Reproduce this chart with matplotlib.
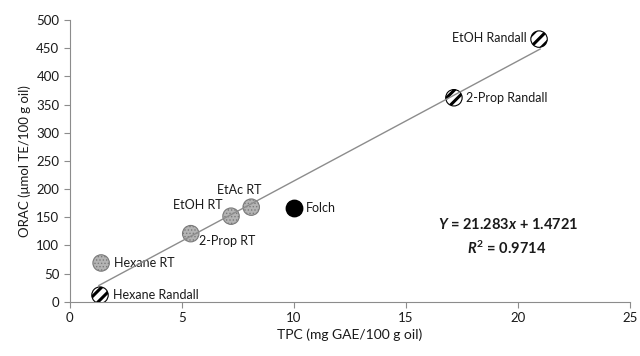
import matplotlib
matplotlib.use("Agg")
import matplotlib.pyplot as plt
import numpy as np

# Data
labels = ["Hexane Randall", "Hexane RT", "2-Prop RT", "EtOH RT", "EtAc RT",
          "Folch", "2-Prop Randall", "EtOH Randall"]
tpc = [1.35, 1.4, 5.4, 7.2, 8.1, 10.0, 17.15, 20.95]
orac = [12, 69, 121, 152, 168, 167, 362, 466]
kind = ["randall", "rt", "rt", "rt", "rt", "folch", "randall", "randall"]
slope, intercept = 21.283, 1.4721
fit_x = [1.3, 21.0]
x_ticks = [0, 5, 10, 15, 20, 25]
y_ticks = list(range(0, 501, 50))

plt.rcParams['font.family'] = ['Lato', 'DejaVu Sans']
plt.rcParams['hatch.linewidth'] = 2.2
plt.rcParams['mathtext.fontset'] = 'custom'
plt.rcParams['mathtext.rm'] = 'Lato:bold'
plt.rcParams['mathtext.it'] = 'Lato:italic:bold'
plt.rcParams['mathtext.bf'] = 'Lato:bold'

fig = plt.figure(figsize=(6.4, 3.56), dpi=100)
ax = fig.add_axes([0.109, 0.152, 0.875, 0.792])

fx = np.array(fit_x)
ax.plot(fx, slope * fx + intercept, color='#8c8c8c', lw=1.0, zorder=5)

for x, y, k in zip(tpc, orac, kind):
    if k == "randall":
        ax.scatter([x], [y], s=140, facecolor='white', edgecolor='black',
                   hatch='///', linewidths=0.8, zorder=3)
    elif k == "rt":
        ax.scatter([x], [y], s=140, facecolor='#b4b4b4', edgecolor='none',
                   zorder=3)
        with plt.rc_context({'hatch.linewidth': 0.6}):
            ax.scatter([x], [y], s=140, facecolor='none', edgecolor='#7a7a7a',
                       hatch='.....', linewidths=0.8, zorder=3)
    else:
        ax.scatter([x], [y], s=140, facecolor='black', edgecolor='black', zorder=3)

offsets = {
    "Hexane Randall": (9, 0, 'left'),
    "Hexane RT": (9, 0, 'left'),
    "2-Prop RT": (6, -5, 'left'),
    "EtOH RT": (-6, 8, 'right'),
    "EtAc RT": (-9, 12, 'center'),
    "Folch": (9, 0, 'left'),
    "2-Prop Randall": (9, 0, 'left'),
    "EtOH Randall": (-9, 1, 'right'),
}
for lab, x, y in zip(labels, tpc, orac):
    dx, dy, ha = offsets[lab]
    ax.annotate(lab, (x, y), xytext=(dx, dy), textcoords='offset points',
                ha=ha, va='center', fontsize=9, color='#1a1a1a')

ax.text(19.55, 137, r'$Y$ = 21.283$x$ + 1.4721', ha='center', va='center',
        fontsize=10.5, fontweight='bold', color='#1a1a1a')
ax.text(19.5, 95, r'$R^2$ = 0.9714', ha='center', va='center',
        fontsize=10.5, fontweight='bold', color='#1a1a1a')

ax.set_xlim(0, 25)
ax.set_ylim(0, 500)
ax.set_xticks(x_ticks)
ax.set_yticks(y_ticks)
for s in ['top', 'right']:
    ax.spines[s].set_visible(False)
for s in ['left', 'bottom']:
    ax.spines[s].set_color('#8c8c8c')
ax.tick_params(axis='both', colors='#8c8c8c', labelcolor='#1a1a1a',
               labelsize=9.5, length=4, direction='out')
ax.set_xlabel('TPC (mg GAE/100 g oil)', fontsize=10, color='#1a1a1a', labelpad=3)
ax.set_ylabel('ORAC (μmol TE/100 g oil)', fontsize=9.5, color='#1a1a1a', labelpad=4)

fig.savefig('out.png', dpi=100)
